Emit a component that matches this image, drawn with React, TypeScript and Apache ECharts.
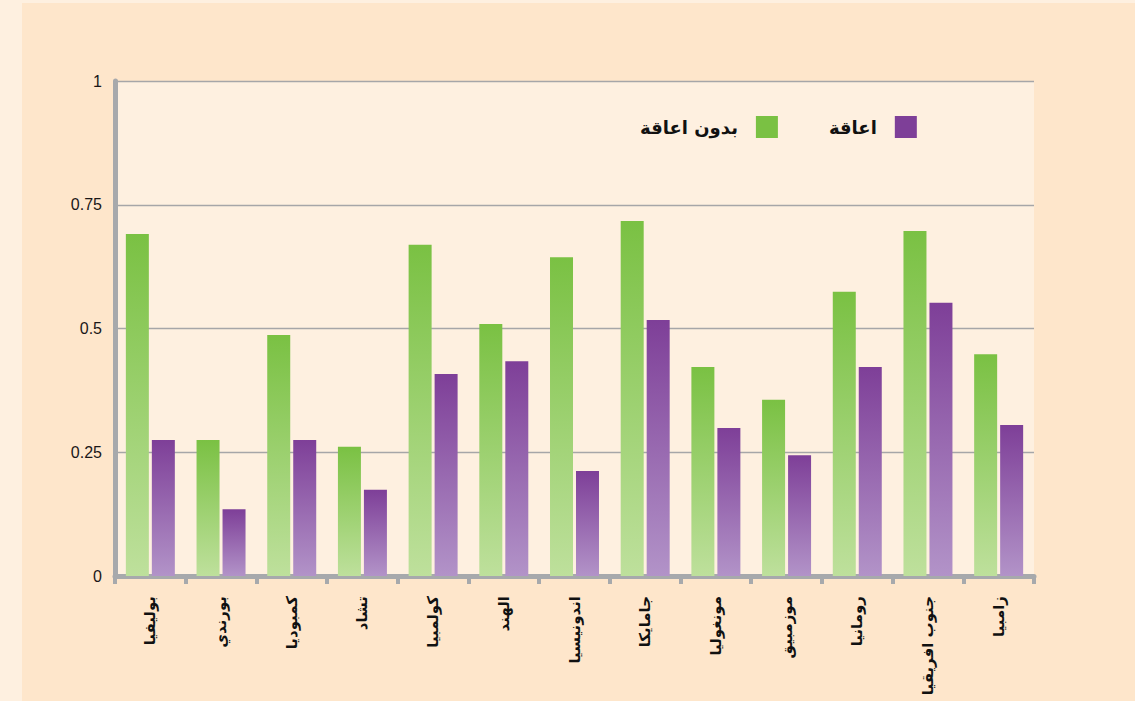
import React, { useEffect, useRef } from "react";
import * as echarts from "echarts";

const categories = [
  "بوليفيا",
  "بورندي",
  "كمبوديا",
  "تشاد",
  "كولمبيا",
  "الهند",
  "اندونيسيا",
  "جامايكا",
  "مونغوليا",
  "موزمبيق",
  "رومانيا",
  "جنوب افريقيا",
  "زامبيا",
];
const noDisability = [0.691, 0.275, 0.487, 0.261, 0.669, 0.509, 0.644, 0.717, 0.422, 0.356, 0.574, 0.697, 0.448];
const withDisability = [0.275, 0.135, 0.275, 0.174, 0.408, 0.434, 0.212, 0.517, 0.299, 0.244, 0.422, 0.552, 0.305];
const seriesNames = ["بدون اعاقة", "اعاقة"];
const legendColors = ["#7AC143", "#7E3F98"];
const yTicks = [0, 0.25, 0.5, 0.75, 1];

export default function App() {
  const ref = useRef<HTMLDivElement>(null);
  useEffect(() => {
    document.body.style.margin = "0";
    const chart = echarts.init(ref.current!, null, { renderer: "svg" });
    const grad = (top: string, bottom: string) =>
      new echarts.graphic.LinearGradient(0, 0, 0, 1, [
        { offset: 0, color: top },
        { offset: 1, color: bottom },
      ]);
    chart.setOption({
      animation: false,
      backgroundColor: "#FEF0E0",
      graphic: [
        {
          type: "rect",
          z: -10,
          silent: true,
          shape: { x: 22, y: 3, width: 1113, height: 698 },
          style: { fill: "#FEE6CB" },
        },
      ],
      grid: {
        left: 115,
        right: 101,
        top: 81,
        bottom: 125,
        show: true,
        backgroundColor: "#FEF0E0",
        borderWidth: 0,
      },
      legend: {
        data: seriesNames.map((n, i) => ({ name: n, itemStyle: { color: legendColors[i] } })),
        top: 116,
        left: 640,
        padding: 0,
        align: "right",
        itemWidth: 22,
        itemHeight: 22,
        itemGap: 51,
        icon: "rect",
        textStyle: {
          fontFamily: "'DejaVu Sans', 'Liberation Sans', sans-serif",
          fontWeight: "bold",
          fontSize: 18,
          color: "#111",
          padding: [0, 13, 0, 0],
        },
      },
      xAxis: {
        type: "category",
        data: categories,
        axisLine: { lineStyle: { color: "#A7A9AC", width: 5 } },
        axisTick: { show: true, length: 8, interval: 0, lineStyle: { color: "#A7A9AC", width: 4 } },
        axisLabel: {
          interval: 0,
          rotate: 90,
          margin: 20,
          fontFamily: "'DejaVu Sans', 'Liberation Sans', sans-serif",
          fontWeight: "bold",
          fontSize: 15,
          color: "#111",
        },
      },
      yAxis: {
        type: "value",
        min: yTicks[0],
        max: yTicks[yTicks.length - 1],
        interval: 0.25,
        axisLine: { show: true, lineStyle: { color: "#A7A9AC", width: 5 } },
        axisTick: { show: false },
        splitLine: { lineStyle: { color: "#A6A6A8", width: 1.3 } },
        axisLabel: {
          margin: 13,
          fontFamily: "'Liberation Sans', Arial, sans-serif",
          fontSize: 16,
          color: "#1A1718",
          formatter: (v: number) => String(v),
        },
      },
      series: [
        {
          name: seriesNames[0],
          type: "bar",
          data: noDisability,
          barWidth: 23,
          barGap: "13%",
          itemStyle: { color: grad("#7AC143", "#BEE09C") },
        },
        {
          name: seriesNames[1],
          type: "bar",
          data: withDisability,
          barWidth: 23,
          barGap: "13%",
          itemStyle: { color: grad("#7E3F98", "#B293C8") },
        },
      ],
    });
    return () => chart.dispose();
  }, []);
  return <div ref={ref} style={{ width: 1135, height: 701 }} />;
}
